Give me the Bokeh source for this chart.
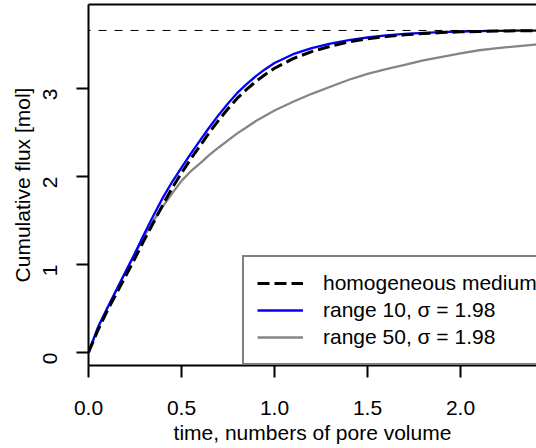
import math
from bokeh.plotting import figure
from bokeh.models import Range1d, Span, Legend, LegendItem, FixedTicker, PrintfTickFormatter, LinearAxis
from bokeh.embed import file_html
from bokeh.resources import INLINE

# ---- data ----
time_pv = [0, 0.05, 0.1, 0.15, 0.2, 0.25, 0.3, 0.35, 0.4, 0.45, 0.5, 0.55, 0.6, 0.65,
           0.7, 0.75, 0.8, 0.85, 0.9, 0.95, 1.0, 1.1, 1.2, 1.3, 1.4, 1.5, 1.6, 1.7,
           1.8, 1.9, 2.0, 2.1, 2.2, 2.3, 2.4, 2.45]

homogeneous = [0, 0.25, 0.47, 0.67, 0.87, 1.07, 1.28, 1.48, 1.68, 1.87, 2.04, 2.20,
               2.35, 2.50, 2.64, 2.77, 2.89, 2.99, 3.08, 3.16, 3.23, 3.34, 3.42, 3.48,
               3.53, 3.565, 3.59, 3.61, 3.625, 3.636, 3.644, 3.649, 3.653, 3.656, 3.658, 3.66]

range10 = [0, 0.28, 0.50, 0.71, 0.92, 1.13, 1.35, 1.56, 1.76, 1.94, 2.10, 2.26, 2.41,
           2.56, 2.70, 2.83, 2.95, 3.05, 3.14, 3.22, 3.29, 3.39, 3.46, 3.51, 3.55, 3.58,
           3.605, 3.62, 3.633, 3.642, 3.648, 3.652, 3.655, 3.657, 3.659, 3.66]

range50 = [0, 0.28, 0.50, 0.71, 0.92, 1.12, 1.32, 1.50, 1.66, 1.81, 1.95, 2.06, 2.15,
           2.245, 2.33, 2.41, 2.49, 2.56, 2.63, 2.69, 2.75, 2.85, 2.94, 3.02, 3.10, 3.167,
           3.22, 3.27, 3.32, 3.36, 3.40, 3.435, 3.46, 3.48, 3.50, 3.505]

plateau = 3.66

x_ticks = [0, 0.5, 1.0, 1.5, 2.0]
y_ticks = [0, 1, 2, 3]

series_labels = ["homogeneous medium", "range 10, \u03c3 = 1.98", "range 50, \u03c3 = 1.98"]

# ---- styling ----
FONT = "Liberation Sans"
FS = "21px"

x_start, x_end = 0.0, 2.4086
y_start, y_end = -0.148, 3.955

p = figure(width=536, height=448,
           x_range=Range1d(x_start, x_end), y_range=Range1d(y_start, y_end),
           output_backend="svg", toolbar_location=None,
           min_border_left=88, min_border_right=0, min_border_top=4, min_border_bottom=83)

p.outline_line_color = None
p.xgrid.visible = False
p.ygrid.visible = False
p.background_fill_color = "white"
p.border_fill_color = "white"

for ax in (p.xaxis[0], p.yaxis[0]):
    ax.axis_line_color = "black"
    ax.axis_line_width = 2
    ax.major_tick_line_color = "black"
    ax.major_tick_line_width = 2
    ax.major_tick_out = 12
    ax.major_tick_in = 0
    ax.minor_tick_out = 0
    ax.minor_tick_in = 0
    ax.major_label_text_font = FONT
    ax.major_label_text_font_size = FS
    ax.major_label_text_color = "black"
    ax.axis_label_text_font = FONT
    ax.axis_label_text_font_size = FS
    ax.axis_label_text_font_style = "normal"
    ax.axis_label_text_color = "black"

p.xaxis.ticker = FixedTicker(ticks=x_ticks)
p.xaxis.formatter = PrintfTickFormatter(format="%.1f")
p.xaxis.major_label_standoff = 23
p.xaxis.axis_label = "time, numbers of pore volume"
p.xaxis.axis_label_standoff = 3

p.yaxis.ticker = FixedTicker(ticks=y_ticks)
p.yaxis.formatter = PrintfTickFormatter(format="%d")
p.yaxis.major_label_orientation = math.pi / 2
p.yaxis.major_label_standoff = 26
p.yaxis.axis_label = "Cumulative flux [mol]"
p.yaxis.axis_label_standoff = 0

# top frame line as a bare axis
top_axis = LinearAxis(ticker=FixedTicker(ticks=[]), axis_line_color="black", axis_line_width=2,
                      major_tick_out=0, major_tick_in=0, minor_tick_out=0, minor_tick_in=0,
                      major_label_text_font_size="0px", major_label_standoff=0)
p.add_layout(top_axis, "above")

# plateau line
p.add_layout(Span(location=plateau, dimension="width", line_color="black", line_width=1,
                  line_dash="8 8", line_dash_offset=6))

r_gray = p.line(time_pv, range50, line_color="#858585", line_width=2.3)
r_blue = p.line(time_pv, range10, line_color="#0000FF", line_width=2.3)
r_black = p.line(time_pv, homogeneous, line_color="black", line_width=3, line_dash="12 5")

legend = Legend(items=[LegendItem(label=series_labels[0], renderers=[r_black]),
                       LegendItem(label=series_labels[1], renderers=[r_blue]),
                       LegendItem(label=series_labels[2], renderers=[r_gray])],
                location=(154, 0))
legend.label_text_font = FONT
legend.label_text_font_size = FS
legend.label_text_color = "black"
legend.glyph_width = 46
legend.glyph_height = 26
legend.label_height = 26
legend.label_width = 230
legend.label_standoff = 20
legend.spacing = 1
legend.padding = 13
legend.margin = 0
legend.border_line_color = "black"
legend.border_line_width = 2
legend.background_fill_color = "white"
legend.background_fill_alpha = 1.0
p.add_layout(legend)

open("out.html", "w").write(file_html(p, INLINE))
